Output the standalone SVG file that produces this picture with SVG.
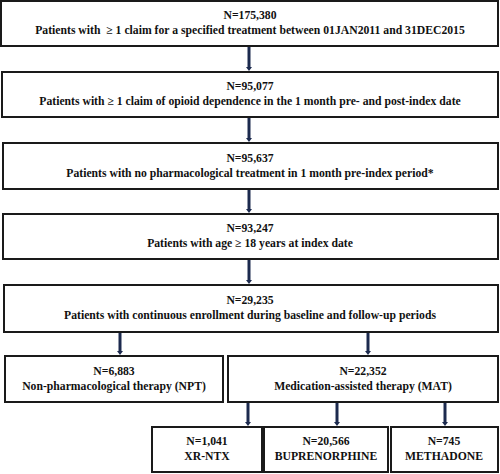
<svg xmlns="http://www.w3.org/2000/svg" width="500" height="474" viewBox="0 0 500 474">
<defs>
<style>
.box{fill:#fff;stroke:#1a1a1a;stroke-width:2}
.t{font-family:"Liberation Serif","Times New Roman",serif;font-weight:bold;font-size:11.7px;fill:#111;text-anchor:middle}
.c{stroke:#1c2a4e;stroke-width:3;fill:none;marker-end:url(#ah)}
</style>
<marker id="ah" markerWidth="6" markerHeight="6" refX="0" refY="3" orient="auto" markerUnits="userSpaceOnUse" viewBox="0 0 6 6">
<path d="M0,0 L4,3 L0,6 z" fill="#1c2a4e"/>
</marker>
</defs>
<g id="n1"><rect class="box" x="1" y="1" width="497" height="45"/>
<text class="t" x="250" y="19">N=175,380</text>
<text class="t" x="250" y="34" xml:space="preserve">Patients with  ≥ 1 claim for a specified treatment between 01JAN2011 and 31DEC2015</text></g>
<g id="n2"><rect class="box" x="2" y="72" width="496" height="45"/>
<text class="t" x="250" y="90">N=95,077</text>
<text class="t" x="250" y="105">Patients with ≥ 1 claim of opioid dependence in the 1 month pre- and post-index date</text></g>
<g id="n3"><rect class="box" x="3" y="143" width="495" height="46"/>
<text class="t" x="250" y="162">N=95,637</text>
<text class="t" x="250" y="177">Patients with no pharmacological treatment in 1 month pre-index period*</text></g>
<g id="n4"><rect class="box" x="3" y="214" width="495" height="45"/>
<text class="t" x="250" y="232">N=93,247</text>
<text class="t" x="250" y="247">Patients with age ≥ 18 years at index date</text></g>
<g id="n5"><rect class="box" x="4" y="285" width="494" height="47"/>
<text class="t" x="250" y="304">N=29,235</text>
<text class="t" x="250" y="319">Patients with continuous enrollment during baseline and follow-up periods</text></g>
<g id="n6"><rect class="box" x="5" y="356" width="218" height="46"/>
<text class="t" x="114" y="375">N=6,883</text>
<text class="t" x="114" y="390">Non-pharmacological therapy (NPT)</text></g>
<g id="n7"><rect class="box" x="228" y="356" width="270" height="46"/>
<text class="t" x="363" y="375">N=22,352</text>
<text class="t" x="363" y="390">Medication-assisted therapy (MAT)</text></g>
<g id="n8"><rect class="box" x="152" y="427" width="110" height="45"/>
<text class="t" x="207" y="445">N=1,041</text>
<text class="t" x="207" y="460">XR-NTX</text></g>
<g id="n9"><rect class="box" x="264" y="427" width="124" height="45"/>
<text class="t" x="326" y="445">N=20,566</text>
<text class="t" x="326" y="460">BUPRENORPHINE</text></g>
<g id="n10"><rect class="box" x="391" y="427" width="107" height="45"/>
<text class="t" x="444" y="445">N=745</text>
<text class="t" x="444" y="460">METHADONE</text></g>
<g id="connectors">
<line class="c" x1="249" y1="47" x2="249" y2="67"/>
<line class="c" x1="249" y1="118" x2="249" y2="138"/>
<line class="c" x1="249" y1="190" x2="249" y2="209"/>
<line class="c" x1="249" y1="260" x2="249" y2="280"/>
<line class="c" x1="120" y1="333" x2="120" y2="351"/>
<line class="c" x1="368" y1="333" x2="368" y2="351"/>
<line class="c" x1="248" y1="403" x2="248" y2="422"/>
<line class="c" x1="337" y1="403" x2="337" y2="422"/>
<line class="c" x1="445" y1="403" x2="445" y2="422"/>
</g>
</svg>
